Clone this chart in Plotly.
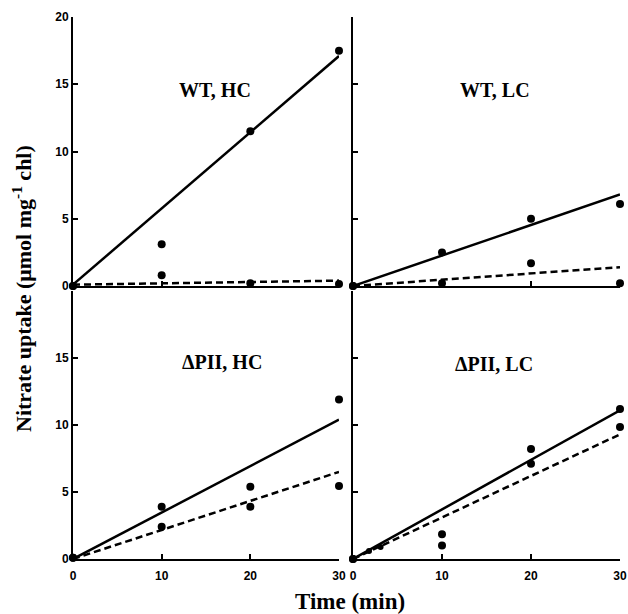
import plotly.graph_objects as go

# ---- data ----
time = [0, 10, 20, 30]
panel_titles = ["WT, HC", "WT, LC", "ΔPII, HC", "ΔPII, LC"]

# measured points (two replicate sets per panel)
wt_hc_upper = [0.0, 3.1, 11.5, 17.5]
wt_hc_lower = [0.0, 0.8, 0.2, 0.15]
wt_lc_upper = [0.0, 2.5, 5.0, 6.1]
wt_lc_lower = [0.0, 0.2, 1.7, 0.2]
dpii_hc_upper = [0.1, 3.9, 5.4, 11.9]
dpii_hc_lower = [0.1, 2.4, 3.9, 5.45]
dpii_lc_upper = [0.0, 1.85, 8.2, 11.2]
dpii_lc_lower = [0.0, 1.0, 7.1, 9.85]
dpii_lc_early_t = [1.8, 3.1]
dpii_lc_early_v = [0.6, 0.9]

# fitted lines: values at t=0 and t=30
line_t = [0, 30]
wt_hc_solid = [0.1, 17.1]
wt_hc_dash = [0.1, 0.4]
wt_lc_solid = [0.0, 6.8]
wt_lc_dash = [0.0, 1.4]
dpii_hc_solid = [0.0, 10.4]
dpii_hc_dash = [0.0, 6.5]
dpii_lc_solid = [0.0, 11.1]
dpii_lc_dash = [0.0, 9.3]

x_ticks = [0, 10, 20, 30]
y_ticks = [0, 5, 10, 15, 20]

W, H = 628, 614
def px(x):
    return x / W
def py(y):
    return 1 - y / H

fig = go.Figure()

panels = [
    ("x", "y", wt_hc_upper, wt_hc_lower, wt_hc_solid, wt_hc_dash),
    ("x2", "y2", wt_lc_upper, wt_lc_lower, wt_lc_solid, wt_lc_dash),
    ("x3", "y3", dpii_hc_upper, dpii_hc_lower, dpii_hc_solid, dpii_hc_dash),
    ("x4", "y4", dpii_lc_upper, dpii_lc_lower, dpii_lc_solid, dpii_lc_dash),
]

for xa, ya, up, lo, so, da in panels:
    fig.add_trace(go.Scatter(x=line_t, y=so, mode="lines", xaxis=xa, yaxis=ya,
                             line=dict(color="black", width=2.5), showlegend=False,
                             cliponaxis=False))
    fig.add_trace(go.Scatter(x=line_t, y=da, mode="lines", xaxis=xa, yaxis=ya,
                             line=dict(color="black", width=2.5, dash="7px,4px"),
                             showlegend=False, cliponaxis=False))
    fig.add_trace(go.Scatter(x=time + time, y=up + lo, mode="markers", xaxis=xa, yaxis=ya,
                             marker=dict(color="black", size=8), showlegend=False,
                             cliponaxis=False))

fig.add_trace(go.Scatter(x=dpii_lc_early_t, y=dpii_lc_early_v, mode="markers",
                         xaxis="x4", yaxis="y4", marker=dict(color="black", size=6),
                         showlegend=False, cliponaxis=False))

xdom_left = [px(73), px(339)]
xdom_right = [px(353), px(620)]
ydom_top = [py(286), py(17)]
ydom_bot = [py(559), py(291)]

tickfont = dict(family="Liberation Sans, Arial", size=12, color="black", weight="bold")

def xaxis(dom, anchor, labels):
    return dict(domain=dom, anchor=anchor, range=[0, 30], tickvals=x_ticks,
                showticklabels=labels, ticks="inside", ticklen=5, tickwidth=1.5,
                tickcolor="black", showline=True, linecolor="black", linewidth=2,
                showgrid=False, zeroline=False, tickfont=tickfont,
                ticklabelstandoff=5, automargin=False)

def yaxis(dom, anchor, labels, vals):
    return dict(domain=dom, anchor=anchor, range=[0, 20], tickvals=vals,
                showticklabels=labels, ticks="inside", ticklen=5, tickwidth=1.5,
                tickcolor="black", showline=True, linecolor="black", linewidth=2,
                showgrid=False, zeroline=False, tickfont=tickfont, automargin=False)

fig.update_layout(
    template="none",
    width=W, height=H, autosize=False,
    margin=dict(l=0, r=0, t=0, b=0, pad=0),
    paper_bgcolor="white", plot_bgcolor="white",
    xaxis=xaxis(xdom_left, "y", False),
    yaxis=yaxis(ydom_top, "x", True, y_ticks),
    xaxis2=xaxis(xdom_right, "y2", False),
    yaxis2=yaxis(ydom_top, "x2", False, y_ticks),
    xaxis3=xaxis(xdom_left, "y3", True),
    yaxis3=yaxis(ydom_bot, "x3", True, y_ticks[:-1]),
    xaxis4=xaxis(xdom_right, "y4", True),
    yaxis4=yaxis(ydom_bot, "x4", False, y_ticks),
)

title_font = dict(family="Liberation Serif, Times New Roman", size=20, color="black",
                  weight="bold")
title_pos = [(215, 90), (495, 90), (222, 362), (494, 364)]
for t, (tx, ty) in zip(panel_titles, title_pos):
    fig.add_annotation(text=t, x=px(tx), y=py(ty), xref="paper", yref="paper",
                       showarrow=False, font=title_font, xanchor="center", yanchor="middle")

fig.add_annotation(text="Nitrate uptake (μmol mg<sup>-1</sup> chl)", x=px(22), y=py(289),
                   xref="paper", yref="paper", showarrow=False, textangle=-90,
                   font=dict(family="Liberation Serif, Times New Roman", size=22,
                             color="black", weight="bold"),
                   xanchor="center", yanchor="middle")
fig.add_annotation(text="Time (min)", x=px(350), y=py(601), xref="paper", yref="paper",
                   showarrow=False,
                   font=dict(family="Liberation Serif, Times New Roman", size=23,
                             color="black", weight="bold"),
                   xanchor="center", yanchor="middle")

fig.write_html("out.html", config={"displayModeBar": False},
               post_script="document.body.style.margin='0';document.body.style.overflow='hidden';")
